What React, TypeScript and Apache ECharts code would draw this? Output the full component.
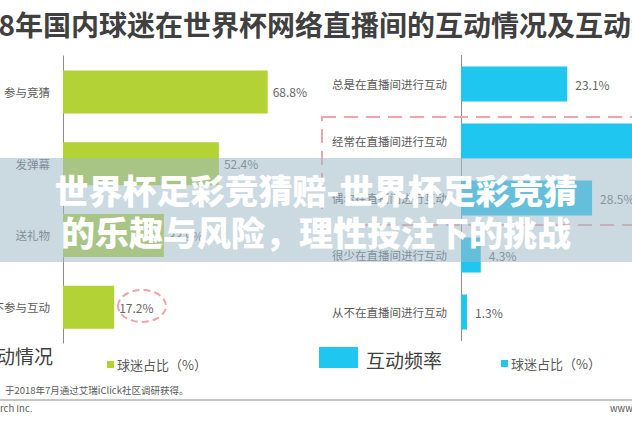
import React, { useEffect, useRef } from "react";
import * as echarts from "echarts";

const titleText = "2018年国内球迷在世界杯网络直播间的互动情况及互动频率";
const leftCategories = ["参与竞猜", "发弹幕", "送礼物", "不参与互动"];
const leftValues = [68.8, 52.4, 33.9, 17.2];
const rightCategories = [
  "总是在直播间进行互动",
  "经常在直播间进行互动",
  "偶尔在直播间进行互动",
  "很少在直播间进行互动",
  "从不在直播间进行互动",
];
const rightValues = [23.1, 42.8, 28.5, 4.3, 1.3];
const legendText = "球迷占比（%）";
const leftSectionTitle = "互动情况";
const rightSectionTitle = "互动频率";
const sourceText = "于2018年7月通过艾瑞iClick社区调研获得。";
const footerLeft = "rch Inc.";
const footerRight = "www.iresearch.com.cn";
const overlayLine1 = "世界杯足彩竞猜赔-世界杯足彩竞猜";
const overlayLine2 = "的乐趣与风险，理性投注下的挑战";

const FONT = '"Noto Sans CJK SC", "Noto Sans", sans-serif';
const GREEN = "#b2d235";
const BLUE = "#1fc6ef";

export default function App() {
  const ref = useRef<HTMLDivElement>(null);
  useEffect(() => {
    if (!ref.current) return;
    const chart = echarts.init(ref.current, null, { renderer: "svg" });
    const labelStyle = { fontSize: 11.5, color: "#595959", fontFamily: FONT };
    chart.setOption({
      animation: false,
      backgroundColor: "#ffffff",
      textStyle: { fontFamily: FONT },
      grid: [
        { left: 63, top: 56, width: 238, height: 287, containLabel: false, outerBoundsMode: "none" },
        { left: 461, top: 55.5, width: 230, height: 285, containLabel: false, outerBoundsMode: "none" },
      ],
      xAxis: [
        { gridIndex: 0, type: "value", min: 0, max: 80, show: false },
        { gridIndex: 1, type: "value", min: 0, max: 50, show: false },
      ],
      yAxis: [
        {
          gridIndex: 0,
          type: "category",
          data: leftCategories,
          inverse: true,
          axisLine: { show: true, lineStyle: { color: "#8c8c8c", width: 1 } },
          axisTick: { show: false },
          axisLabel: { margin: 13, ...labelStyle },
        },
        {
          gridIndex: 1,
          type: "category",
          data: rightCategories,
          inverse: true,
          axisLine: { show: true, lineStyle: { color: "#8c8c8c", width: 1 } },
          axisTick: { show: false },
          axisLabel: { margin: 14, ...labelStyle },
        },
      ],
      series: [
        {
          type: "bar",
          xAxisIndex: 0,
          yAxisIndex: 0,
          data: leftValues,
          barWidth: 43,
          itemStyle: { color: GREEN },
          label: {
            show: true,
            position: "right",
            distance: 5,
            formatter: "{c}%",
            fontSize: 12,
            color: "#666666",
            fontFamily: FONT,
          },
        },
        {
          type: "bar",
          xAxisIndex: 1,
          yAxisIndex: 1,
          data: rightValues,
          barWidth: 35,
          itemStyle: { color: BLUE },
          label: {
            show: true,
            position: "right",
            distance: 8,
            formatter: "{c}%",
            fontSize: 12,
            color: "#666666",
            fontFamily: FONT,
          },
        },
      ],
      graphic: [
        {
          type: "text",
          x: -51,
          y: 24,
          style: {
            text: titleText,
            font: `bold 28px ${FONT}`,
            fill: "#404040",
            verticalAlign: "middle",
          },
        },
        {
          type: "ellipse",
          shape: { cx: 142, cy: 306, rx: 24, ry: 16 },
          style: { fill: "none", stroke: "#f0a3a8", lineWidth: 2, lineDash: [7, 4] },
          z: 10,
        },
        {
          type: "rect",
          shape: { x: 322, y: 117, width: 400, height: 108 },
          style: { fill: "none", stroke: "#f2a5a8", lineWidth: 2, lineDash: [14, 8] },
          z: 10,
        },
        {
          type: "text",
          x: 53,
          y: 355,
          style: {
            text: leftSectionTitle,
            font: `19px ${FONT}`,
            fill: "#404040",
            align: "right",
            verticalAlign: "middle",
          },
        },
        {
          type: "rect",
          shape: { x: 107, y: 361, width: 7, height: 7 },
          style: { fill: GREEN },
        },
        {
          type: "text",
          x: 117,
          y: 364,
          style: {
            text: legendText,
            font: `13px ${FONT}`,
            fill: "#595959",
            verticalAlign: "middle",
          },
        },
        {
          type: "rect",
          shape: { x: 319, y: 347, width: 39, height: 21 },
          style: { fill: BLUE },
        },
        {
          type: "text",
          x: 366,
          y: 359,
          style: {
            text: rightSectionTitle,
            font: `19px ${FONT}`,
            fill: "#404040",
            verticalAlign: "middle",
          },
        },
        {
          type: "rect",
          shape: { x: 501, y: 360, width: 7, height: 7 },
          style: { fill: BLUE },
        },
        {
          type: "text",
          x: 511,
          y: 363,
          style: {
            text: legendText,
            font: `13px ${FONT}`,
            fill: "#595959",
            verticalAlign: "middle",
          },
        },
        {
          type: "text",
          x: 5,
          y: 390,
          style: {
            text: sourceText,
            font: `9.5px ${FONT}`,
            fill: "#595959",
            verticalAlign: "middle",
          },
        },
        {
          type: "line",
          shape: { x1: 0, y1: 400, x2: 632, y2: 400 },
          style: { stroke: "#8c8c8c", lineWidth: 1 },
        },
        {
          type: "text",
          x: 0,
          y: 408,
          style: {
            text: footerLeft,
            font: `9.5px ${FONT}`,
            fill: "#595959",
            verticalAlign: "middle",
          },
        },
        {
          type: "text",
          x: 610,
          y: 408,
          style: {
            text: footerRight,
            font: `9.5px ${FONT}`,
            fill: "#595959",
            verticalAlign: "middle",
          },
        },
        {
          type: "rect",
          shape: { x: 0, y: 158, width: 632, height: 104 },
          style: { fill: "rgba(160,185,200,0.55)" },
          z: 100,
        },
        {
          type: "text",
          x: 316,
          y: 189,
          z: 101,
          style: {
            text: overlayLine1,
            font: `900 34px ${FONT}`,
            fill: "#ffffff",
            align: "center",
            verticalAlign: "middle",
          },
        },
        {
          type: "text",
          x: 316,
          y: 231,
          z: 101,
          style: {
            text: overlayLine2,
            font: `900 34px ${FONT}`,
            fill: "#ffffff",
            align: "center",
            verticalAlign: "middle",
          },
        },
      ],
    });
    return () => chart.dispose();
  }, []);
  return (
    <div
      ref={ref}
      style={{ position: "fixed", left: 0, top: 0, width: 632, height: 421, background: "#fff" }}
    />
  );
}
